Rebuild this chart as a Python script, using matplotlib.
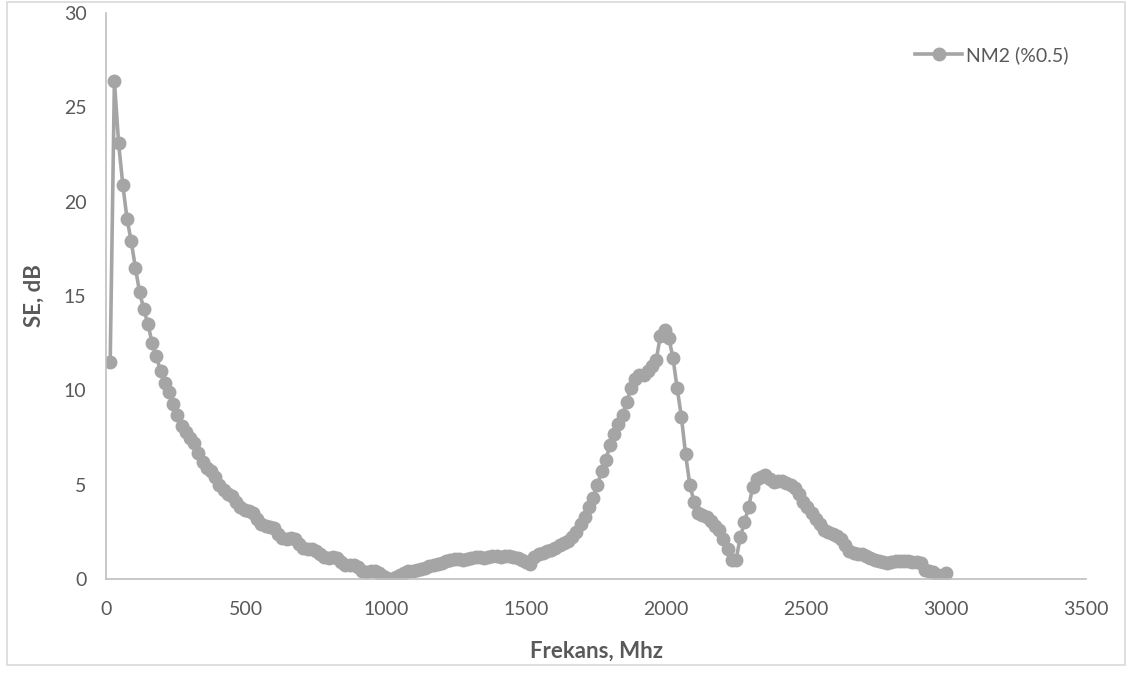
import numpy as np
import matplotlib
matplotlib.use("Agg")
import matplotlib.pyplot as plt

plt.rcParams['font.family'] = ['Lato', 'DejaVu Sans']

# frequency grid, MHz (15 MHz steps)
freq = np.arange(15, 3001, 15)

# shielding effectiveness, dB
se = [
    11.5, 26.4, 23.1, 20.9, 19.1, 17.9, 16.5, 15.2, 14.3, 13.5,   # 15-150
    12.5, 11.8, 11.0, 10.4, 9.9, 9.3, 8.7, 8.1, 7.8, 7.5,          # 165-300
    7.2, 6.7, 6.2, 5.9, 5.7, 5.4, 5.0, 4.7, 4.5, 4.4,              # 315-450
    4.1, 3.8, 3.65, 3.6, 3.5, 3.2, 2.9, 2.8, 2.75, 2.7,            # 465-600
    2.4, 2.15, 2.1, 2.15, 2.1, 1.85, 1.65, 1.6, 1.6, 1.5,          # 615-750
    1.35, 1.15, 1.1, 1.15, 1.1, 0.9, 0.75, 0.75, 0.75, 0.65,       # 765-900
    0.45, 0.35, 0.4, 0.4, 0.3, 0.15, 0.05, 0.02, 0.1, 0.2,         # 915-1050
    0.3, 0.4, 0.45, 0.5, 0.55, 0.6, 0.7, 0.75, 0.8, 0.85,          # 1065-1200
    0.95, 1.0, 1.05, 1.05, 1.0, 1.05, 1.1, 1.15, 1.15, 1.1,        # 1215-1350
    1.15, 1.2, 1.2, 1.15, 1.2, 1.2, 1.15, 1.1, 1.0, 0.9,           # 1365-1500
    0.8, 1.15, 1.3, 1.4, 1.5, 1.55, 1.65, 1.8, 1.9, 2.0,           # 1515-1650
    2.2, 2.5, 2.9, 3.3, 3.8, 4.3, 5.0, 5.7, 6.3, 7.1,              # 1665-1800
    7.7, 8.2, 8.7, 9.4, 10.1, 10.6, 10.8, 10.8, 11.0, 11.3,        # 1815-1950
    11.6, 12.9, 13.2, 12.8, 11.7, 10.1, 8.6, 6.6, 5.0, 4.1,        # 1965-2100
    3.5, 3.4, 3.3, 3.1, 2.8, 2.6, 2.1, 1.6, 1.0, 1.0,              # 2115-2250
    2.2, 3.0, 3.8, 4.9, 5.3, 5.4, 5.5, 5.3, 5.15, 5.2,             # 2265-2400
    5.2, 5.1, 5.0, 4.8, 4.5, 4.1, 3.8, 3.5, 3.2, 2.9,              # 2415-2550
    2.6, 2.5, 2.4, 2.3, 2.1, 1.8, 1.5, 1.4, 1.35, 1.3,             # 2565-2700
    1.2, 1.1, 1.0, 0.95, 0.9, 0.85, 0.9, 0.95, 0.95, 0.95,         # 2715-2850
    0.95, 0.9, 0.9, 0.85, 0.5, 0.45, 0.35, 0.2, 0.15, 0.3,         # 2865-3000
]

series_name = 'NM2 (%0.5)'
x_ticks = [0, 500, 1000, 1500, 2000, 2500, 3000, 3500]
y_ticks = [0, 5, 10, 15, 20, 25, 30]

text_col = '#595959'
line_col = '#A5A5A5'
axis_col = '#BFBFBF'

fig = plt.figure(figsize=(11.31, 6.77), dpi=100)
ax = fig.add_axes([106 / 1131, 1 - 579 / 677, 980 / 1131, 566 / 677])

ax.plot(freq, se, color=line_col, lw=2.6, marker='o', markersize=9,
        markeredgecolor=line_col, markerfacecolor=line_col, label=series_name)

ax.set_xlim(0, 3500)
ax.set_ylim(0, 30)
ax.set_xticks(x_ticks)
ax.set_yticks(y_ticks)

for s in ['top', 'right']:
    ax.spines[s].set_visible(False)
for s in ['left', 'bottom']:
    ax.spines[s].set_color(axis_col)
    ax.spines[s].set_linewidth(1.2)

ax.tick_params(axis='both', length=0, labelsize=14, colors=text_col)
ax.tick_params(axis='x', pad=16)
ax.tick_params(axis='y', pad=14)

ax.set_xlabel('Frekans, Mhz', fontsize=16, fontweight='bold', color=text_col, labelpad=16)
ax.set_ylabel('SE, dB', fontsize=16, fontweight='bold', color=text_col, labelpad=14)

leg = ax.legend(loc='center right', bbox_to_anchor=(0.992, 0.926), frameon=False,
                fontsize=14, borderpad=0, handlelength=2.4, handletextpad=0.2)
for t in leg.get_texts():
    t.set_color(text_col)

# chart border
fig.patches.append(plt.Rectangle((7 / 1131, 1 - 665 / 677), 1118 / 1131, 663 / 677,
                                 transform=fig.transFigure, fill=False,
                                 edgecolor='#D9D9D9', lw=1.2))

fig.savefig('out.png', dpi=100)
